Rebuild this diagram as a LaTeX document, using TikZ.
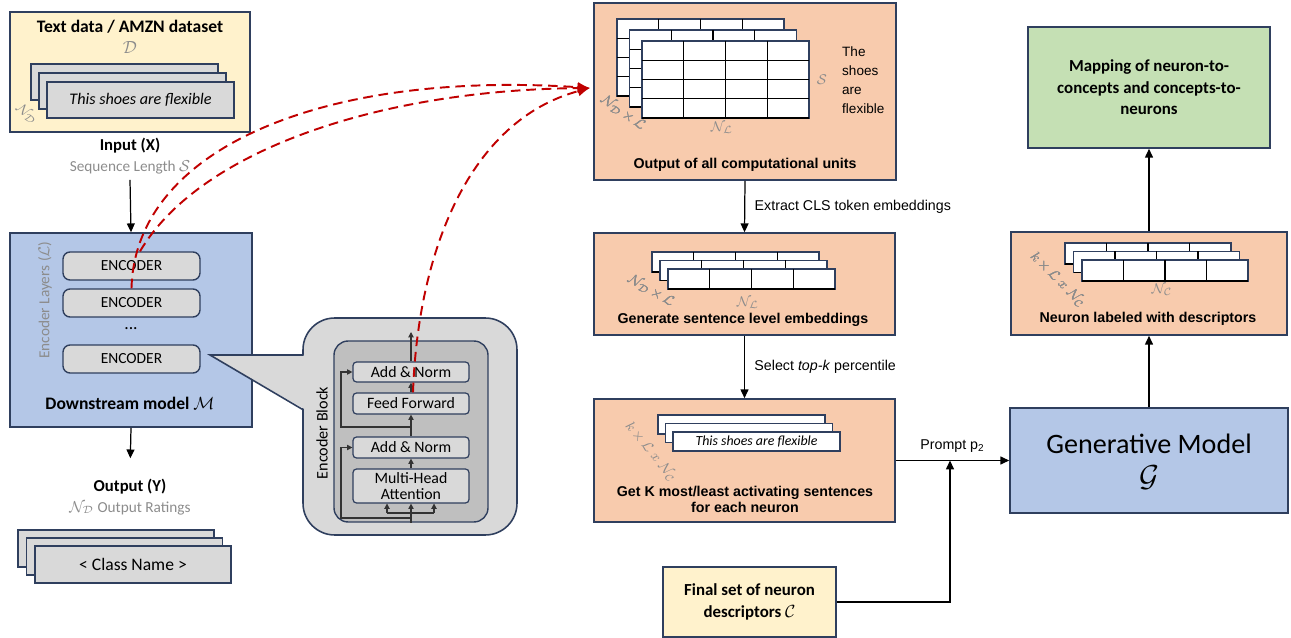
\documentclass[tikz,border=0pt]{standalone}
\usepackage{fontspec}
\setmainfont{Carlito}
\newfontfamily\arialf{Liberation Sans}
\usetikzlibrary{arrows.meta, calc}

\definecolor{navy}{HTML}{2F3F5E}
\definecolor{ylw}{HTML}{FFF2CC}
\definecolor{blu}{HTML}{B4C7E7}
\definecolor{orng}{HTML}{F8CBAD}
\definecolor{grn}{HTML}{C5E0B4}
\definecolor{lgray}{HTML}{D9D9D9}
\definecolor{mgray}{HTML}{BFBFBF}
\definecolor{txtgray}{HTML}{8C8C8C}
\definecolor{dred}{HTML}{C00000}

% one layer of a table: x, y, width, height, rows
\newcommand{\tabgrid}[5]{%
  \draw[navy, line width=0.8pt, fill=white] (#1,#2) rectangle ++(#3,#4);
  \foreach \ci in {1,2,3} \draw[line width=0.8pt] ({#1+\ci*#3/4},#2) -- ++(0,#4);
  \foreach \ri in {1,...,#5} \draw[line width=0.8pt] (#1,{#2+\ri*#4/#5}) -- ++(#3,0);
}

\begin{document}
\begin{tikzpicture}[x=0.02cm, y=-0.02cm,
    box/.style={draw=navy, line width=0.9pt, inner sep=0pt},
    enc/.style={draw=navy, fill=lgray, rounded corners=4pt, line width=0.8pt,
                minimum width=2.74cm, minimum height=0.56cm, font=\fontsize{8.8}{10}\selectfont},
    blk/.style={draw=navy, fill=lgray, rounded corners=2pt, line width=0.7pt, inner sep=0pt,
                minimum width=2.32cm, align=center, font=\fontsize{9}{9.5}\selectfont},
    ttl/.style={align=center, font=\arialf\bfseries\fontsize{8.1}{9}\selectfont},
    lbl/.style={font=\arialf\fontsize{8.1}{9}\selectfont},
    dim/.style={text=txtgray, font=\fontsize{8}{9}\selectfont},
    head/.style={font=\bfseries\fontsize{9.5}{11}\selectfont},
    Arr/.style={-{Triangle[length=5pt,width=4.5pt]}, line width=0.7pt},
    sm/.style={-{Triangle[length=3pt,width=3pt]}, line width=0.6pt, black!80},
    trace/.style={dred, dash pattern=on 5.5pt off 3.3pt, line width=1.1pt, -{Latex[length=7pt,width=6pt]}},
  ]
  \useasboundingbox (0,0) rectangle (1291,638);

  % ---- left column: data and downstream model
  \node[box, fill=ylw, minimum width=4.8cm, minimum height=2.4cm] (data_node) at (130,72) {};
  \node[head, font=\bfseries\fontsize{10}{11}\selectfont] (datattl_node) at (130,27) {Text data / AMZN dataset};
  \node[dim, font=\fontsize{10}{11}\selectfont] (dsym_node) at (130,48) {$\mathcal{D}$};
  \foreach \d in {2,1}
    \draw[navy, line width=1pt, fill=lgray] (47-8*\d,82-9*\d) rectangle ++(187,36);
  \node[draw=navy, line width=1pt, fill=lgray, minimum width=3.74cm, minimum height=0.72cm,
        font=\itshape\fontsize{9.2}{10}\selectfont] (sent_node) at (140.5,100) {This shoes are flexible};
  \node[dim, rotate=-40] (nd_node) at (27,114) {$\mathcal{N}_{\mathcal{D}}$};

  \node[head] (input_node) at (130,146) {Input (X)};
  \node[dim, font=\fontsize{8.7}{10}\selectfont] (seq_node) at (130,167) {Sequence Length $\mathcal{S}$};

  \node[box, fill=blu, minimum width=4.84cm, minimum height=3.88cm] (model_node) at (131,330) {};
  \node[enc] (enc1_node) at (131.5,266) {ENCODER};
  \node[enc] (enc2_node) at (131.5,303) {ENCODER};
  \node (dots_node) at (131,329) {...};
  \node[enc] (enc3_node) at (131.5,359) {ENCODER};
  \node[dim, rotate=90, font=\fontsize{8.7}{10}\selectfont] (layers_node) at (45,300) {Encoder Layers ($\mathcal{L}$)};
  \node[font=\bfseries\fontsize{10}{11}\selectfont] (modelttl_node) at (130,403) {Downstream model $\mathcal{M}$};

  \node[head] (outy_node) at (130,487) {Output (Y)};
  \node[dim, font=\fontsize{8.7}{10}\selectfont] (rat_node) at (130,508) {$\mathcal{N}_{\mathcal{D}}$ Output Ratings};
  \foreach \d in {2,1}
    \draw[navy, line width=1pt, fill=lgray] (35-8.5*\d,546-8*\d) rectangle ++(196,37);
  \node[draw=navy, line width=1pt, fill=lgray, minimum width=3.92cm, minimum height=0.74cm,
        font=\fontsize{10}{11}\selectfont] (class_node) at (133,564.5) {< Class Name >};

  \draw[Arr] (seq_node.south) -- (model_node.north);
  \draw[Arr, shorten >=3mm] (model_node.south) -- (outy_node.north);

  % ---- encoder block call-out
  \node[draw=navy, fill=lgray, line width=0.9pt, rounded corners=18pt,
        minimum width=4.28cm, minimum height=4.34cm] (bubble_node) at (410,426.5) {};
  \fill[lgray] (210,355) -- (306,355) -- (306,410) -- cycle;
  \draw[navy, line width=0.9pt] (303.5,355) -- (210,355) -- (303.5,410);
  \node[draw=navy, fill=mgray, line width=0.8pt, rounded corners=8pt,
        minimum width=3.08cm, minimum height=3.62cm] (inner_node) at (411,431.5) {};
  \node[rotate=90, font=\fontsize{9.2}{10}\selectfont] (blkttl_node) at (322,433) {Encoder Block};
  \node[blk, minimum height=0.4cm] (an2_node) at (411,372) {Add \& Norm};
  \node[blk, minimum height=0.42cm] (ff_node) at (411,403.5) {Feed Forward};
  \node[blk, minimum height=0.42cm] (an1_node) at (411,447.5) {Add \& Norm};
  \node[blk, minimum height=0.68cm] (mha_node) at (411,486) {Multi-Head\\Attention};

  \draw[sm] (inner_node.south) -- (mha_node.south);
  \draw[line width=0.6pt, black!80] (387,513) -- (434,513);
  \draw[sm] (387,513) -- (387,503.5);
  \draw[sm] (434,513) -- (434,503.5);
  \draw[sm] (411,518) -- (341,518) -- (341,447.5) -- (an1_node.west);
  \draw[sm] (mha_node.north) -- (an1_node.south);
  \draw[sm] (an1_node.north) -- (ff_node.south);
  \draw[sm] (411,427) -- (341,427) -- (341,372) -- (an2_node.west);
  \draw[sm] (ff_node.north) -- (an2_node.south);
  \draw[sm] (an2_node.north) -- (411,332);

  % ---- middle column
  \node[box, fill=orng, minimum width=6.04cm, minimum height=3.54cm] (out1_node) at (745,91.5) {};
  \foreach \d in {2,1,0} \tabgrid{642-12.5*\d}{41-11*\d}{167}{77}{4}
  \node[dim, rotate=-35] (ndl1_node) at (623,113) {$\mathcal{N}_{\mathcal{D}}\,{\times}\,\mathcal{L}$};
  \node[dim] (nl1_node) at (722,128) {$\mathcal{N}_{\mathcal{L}}$};
  \node[dim] (s_node) at (822,80) {$\mathcal{S}$};
  \node[lbl, align=left, anchor=west, font=\arialf\fontsize{7.7}{10.8}\selectfont] (shoes_node) at (836,80) {The\\shoes\\are\\flexible};
  \node[ttl] (out1ttl_node) at (745,165) {Output of all computational units};

  \node[box, fill=orng, minimum width=6.02cm, minimum height=2.04cm] (out2_node) at (744.5,284) {};
  \foreach \d in {2,1,0} \tabgrid{668-8*\d}{269-8.5*\d}{167}{20}{1}
  \node[dim, rotate=-30] (ndl2_node) at (651,291) {$\mathcal{N}_{\mathcal{D}}\,{\times}\,\mathcal{L}$};
  \node[dim] (nl2_node) at (748,303) {$\mathcal{N}_{\mathcal{L}}$};
  \node[ttl] (out2ttl_node) at (743,320) {Generate sentence level embeddings};

  \node[box, fill=orng, minimum width=6.02cm, minimum height=2.46cm] (out3_node) at (744.5,460.5) {};
  \foreach \d in {2,1}
    \draw[navy, line width=0.8pt, fill=white] (673-7.5*\d,432-8.5*\d) rectangle ++(167,19);
  \node[draw=navy, line width=0.8pt, fill=white, minimum width=3.34cm, minimum height=0.38cm, inner sep=0pt,
        font=\itshape\fontsize{7.9}{9}\selectfont] (topk_node) at (756.5,441.5) {This shoes are flexible};
  \node[dim, rotate=-50] (klc1_node) at (651,452) {$k\,{\times}\,\mathcal{L}\;x\;\mathcal{N}_{\mathcal{C}}$};
  \node[ttl] (out3ttl_node) at (745,499.5) {Get K most/least activating sentences\\for each neuron};

  \node[box, fill=ylw, minimum width=3.46cm, minimum height=1.4cm, align=center,
        font=\bfseries\fontsize{9.6}{12.5}\selectfont] (final_node) at (749.5,602) {Final set of neuron\\descriptors $\mathcal{C}$};

  \draw[Arr] (out1_node.south) -- node[lbl, midway, right=2pt] {Extract CLS token embeddings} (out2_node.north);
  \draw[Arr] (out2_node.south) -- node[lbl, midway, right=2pt] {Select \textit{top-k} percentile} (out3_node.north);

  % ---- right column
  \node[box, fill=blu, minimum width=5.56cm, minimum height=2.1cm] (gen_node) at (1149,460.5) {};
  \node[font=\fontsize{16}{18}\selectfont] (genttl_node) at (1149,444) {Generative Model};
  \node[font=\fontsize{16}{18}\selectfont] (gsym_node) at (1149,478) {$\mathcal{G}$};

  \node[box, fill=orng, minimum width=5.52cm, minimum height=2.06cm] (lab_node) at (1149,283.5) {};
  \foreach \d in {2,1,0} \tabgrid{1082-8.5*\d}{260-8.5*\d}{166}{21}{1}
  \node[dim, rotate=-45] (klc2_node) at (1058,280) {$k\,{\times}\,\mathcal{L}\;x\;\mathcal{N}_{\mathcal{C}}$};
  \node[dim] (nc_node) at (1162,290) {$\mathcal{N}_{\mathcal{C}}$};
  \node[ttl] (labttl_node) at (1148,319) {Neuron labeled with descriptors};

  \node[box, fill=grn, minimum width=4.84cm, minimum height=2.42cm, align=center,
        font=\bfseries\fontsize{9.6}{12.2}\selectfont] (map_node) at (1149,87.5) {Mapping of neuron-to-\\concepts and concepts-to-\\neurons};

  \coordinate (prompt_pt) at ($(out3_node.east)!0.478!(gen_node.west)$);
  \draw[Arr] (out3_node.east) -- node[lbl, midway, above=1pt] {Prompt p\textsubscript{2}} (gen_node.west);
  \draw[Arr] (final_node.east) -| (prompt_pt);
  \draw[Arr] (gen_node.north) -- (lab_node.south);
  \draw[Arr] (lab_node.north) -- (map_node.south);

  % ---- traced activations
  \coordinate (tap_pt) at (590,88);
  \draw[trace] (enc2_node.north) .. controls (135,150) and (320,70) .. (tap_pt);
  \draw[trace] ([xshift=0.17cm]enc1_node.north) .. controls (200,150) and (380,90) .. (tap_pt);
  \draw[trace] ([xshift=0.04cm]ff_node.north) .. controls (418,250) and (470,120) .. (tap_pt);
\end{tikzpicture}
\end{document}
